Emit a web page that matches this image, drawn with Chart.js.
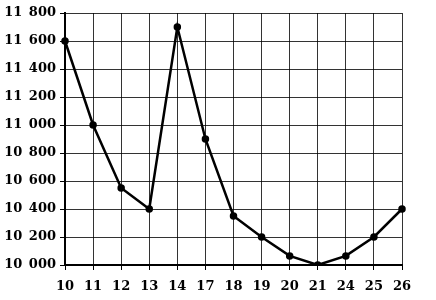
<!DOCTYPE html>
<html>
<head>
<meta charset="utf-8">
<script src="https://cdn.jsdelivr.net/npm/chart.js@4.4.0/dist/chart.umd.min.js"></script>
<style>
html,body{margin:0;padding:0;background:#fff;}
#wrap{width:436px;height:300px;}
</style>
</head>
<body>
<div id="wrap"><canvas id="c" width="436" height="300"></canvas></div>
<script>
const categories = ['10','11','12','13','14','17','18','19','20','21','24','25','26'];
const values = [11600, 11000, 10550, 10400, 11700, 10900, 10350, 10200, 10065, 10000, 10065, 10200, 10400];
const yMin = 10000;
const yMax = 11800;
const yStep = 100;
const labelStep = 200;

function fmt(v){
  return String(v).replace(/\B(?=(\d{3})+$)/g, '\u2002');
}

const font = {family: 'DejaVu Serif', size: 13, weight: 'bold'};

new Chart(document.getElementById('c'), {
  type: 'line',
  data: {
    labels: categories,
    datasets: [{
      data: values,
      borderColor: '#000',
      backgroundColor: '#000',
      borderWidth: 2.5,
      pointRadius: 2.5,
      pointHoverRadius: 2.5,
      tension: 0,
      fill: false
    }]
  },
  options: {
    responsive: false,
    animation: false,
    devicePixelRatio: 1,
    plugins: {legend: {display: false}, tooltip: {enabled: false}},
    layout: {padding: {left: 0, right: 34, top: 13, bottom: 0}},
    scales: {
      x: {
        offset: false,
        grid: {color: 'rgba(0,0,0,0.8)', lineWidth: 1, drawTicks: true, tickLength: 5, tickColor: '#000'},
        border: {display: true, color: '#000', width: 2},
        ticks: {color: '#000', font: font, autoSkip: false, maxRotation: 0, padding: 9},
        afterFit: s => { s.height = 35; }
      },
      y: {
        min: yMin,
        max: yMax,
        grid: {
          color: 'rgba(0,0,0,0.8)', lineWidth: 1, drawTicks: true, tickLength: 5,
          tickColor: ctx => (ctx.tick && ctx.tick.value % labelStep === 0) ? '#000' : 'rgba(0,0,0,0)'
        },
        border: {display: true, color: '#000', width: 2},
        ticks: {
          stepSize: yStep, color: '#000', font: font, padding: 4,
          callback: v => (v % labelStep === 0 ? fmt(v) : '')
        },
        afterFit: s => { s.width = 65; }
      }
    }
  }
});
</script>
</body>
</html>
